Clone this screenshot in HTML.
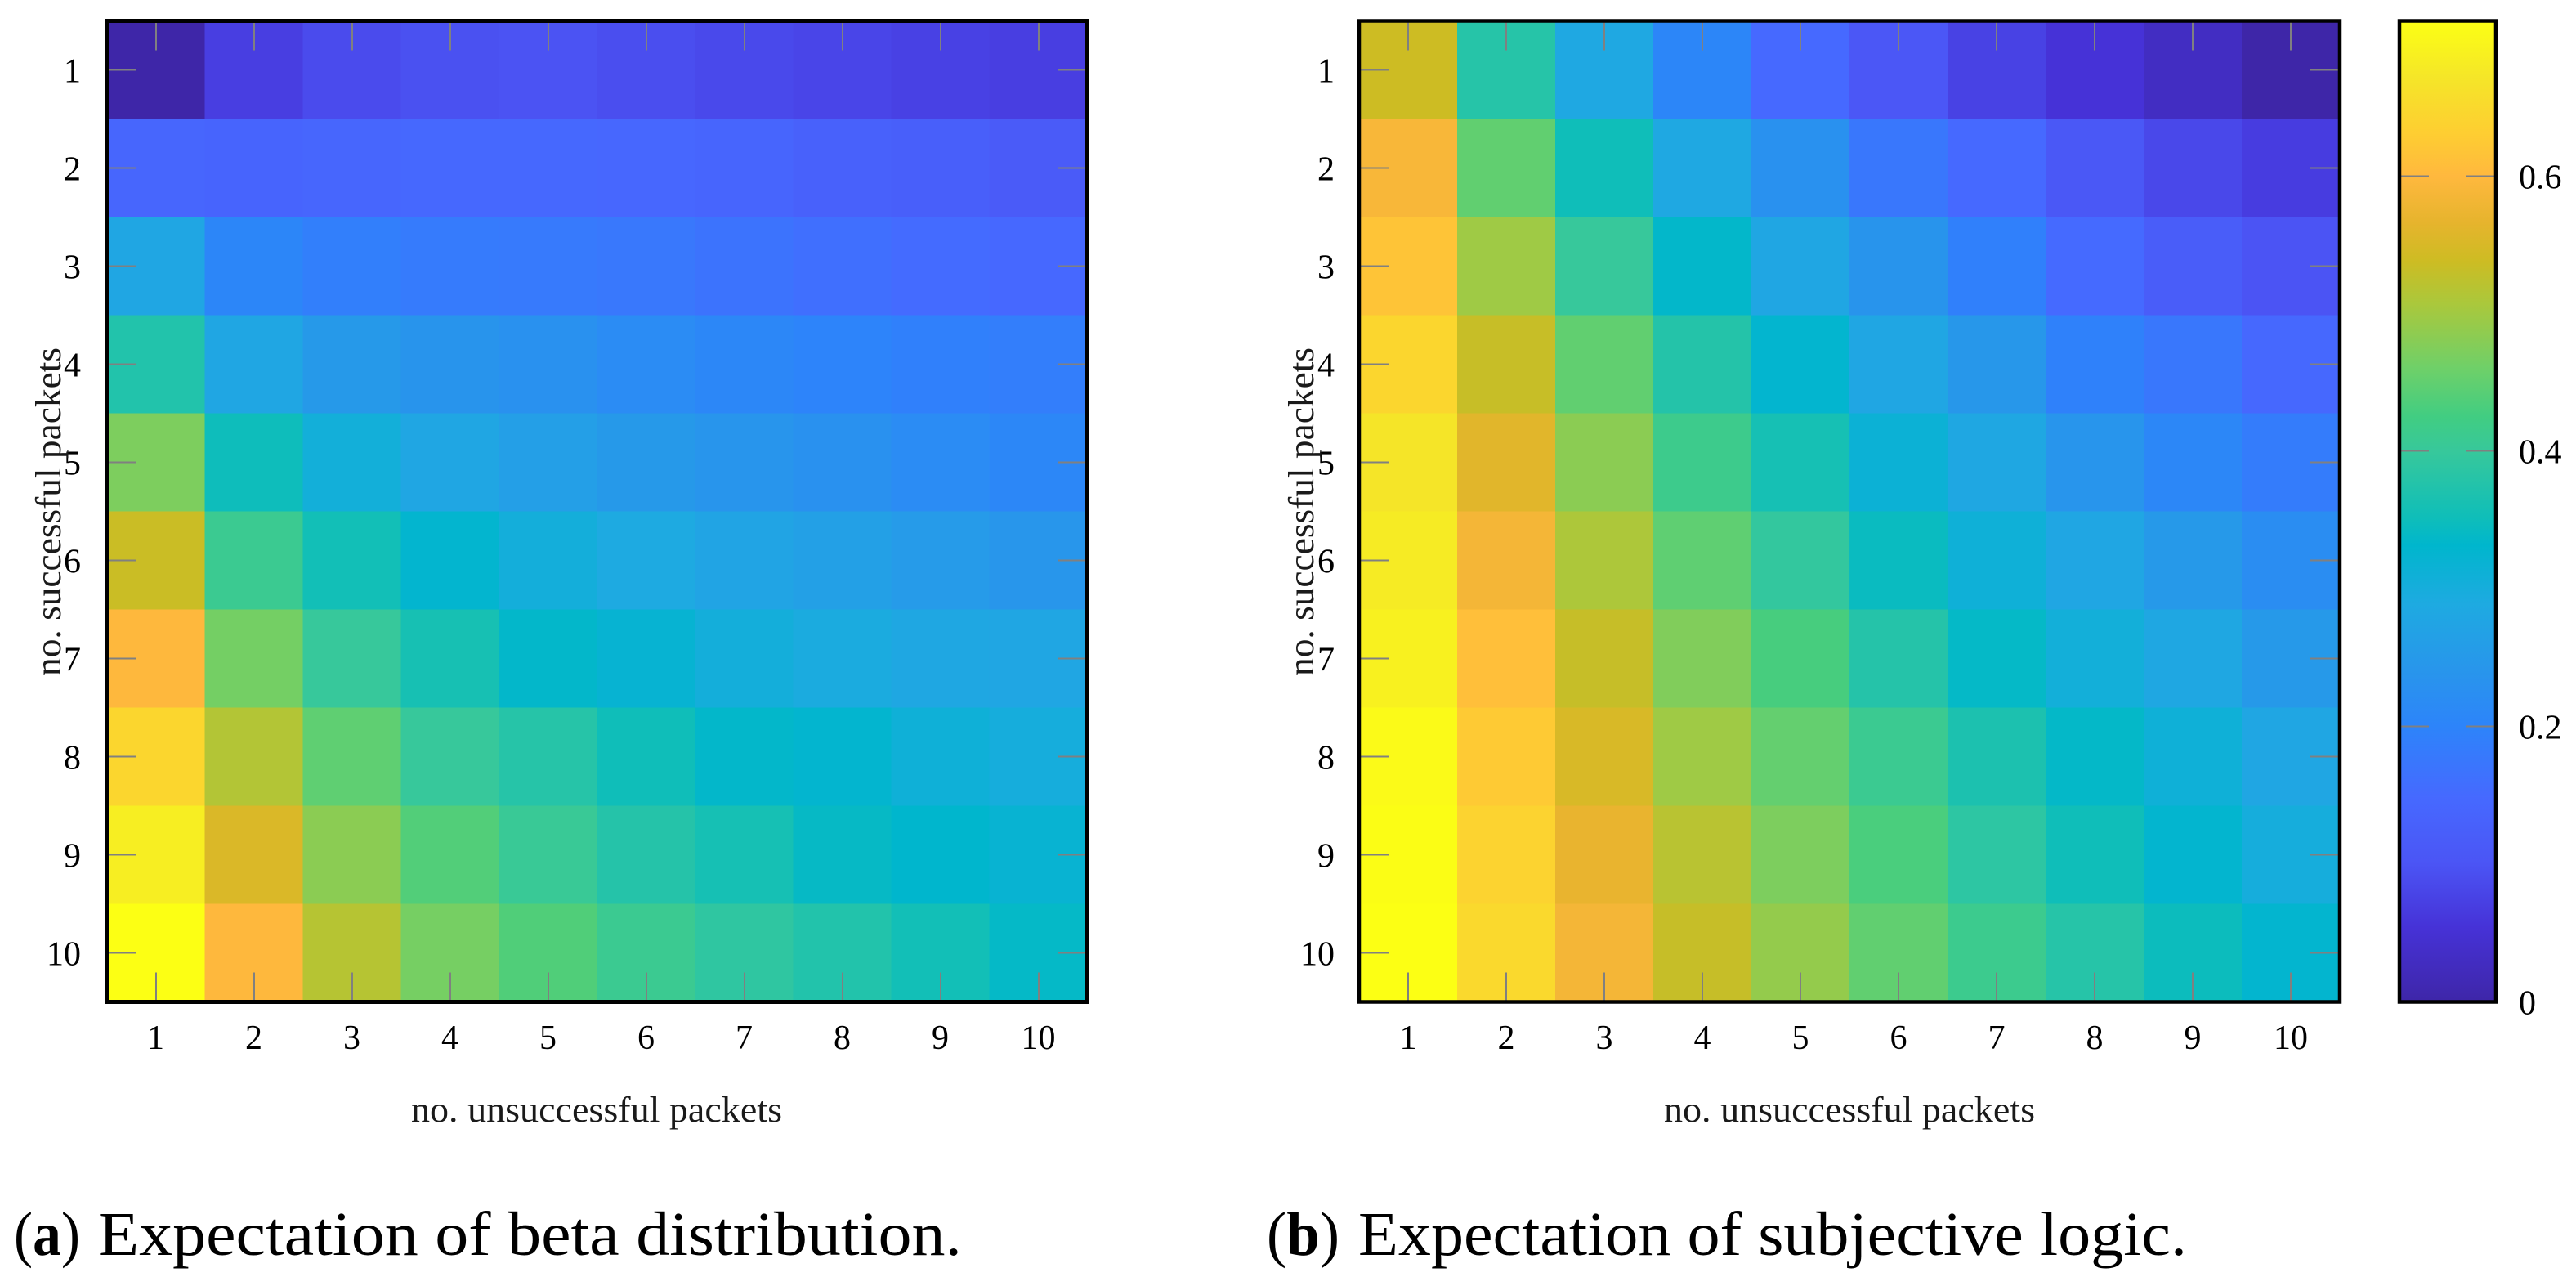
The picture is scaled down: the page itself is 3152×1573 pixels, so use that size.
<!DOCTYPE html>
<html lang="en">
<head>
<meta charset="utf-8">
<title>Expectation heatmaps</title>
<style>
  html, body { margin: 0; padding: 0; background: #fff; }
  body { width: 3152px; height: 1573px; overflow: hidden; }
  svg { display: block; }
  text { font-family: "Liberation Serif", serif; fill: #000; }
  .tick-label { font-size: 42px; }
  .axis-title { font-size: 44px; fill: #1a1a1a; }
  .caption { font-size: 76px; }
</style>
</head>
<body>
<svg id="figure" xmlns="http://www.w3.org/2000/svg" width="3152" height="1573" viewBox="0 0 3152 1573">
  <defs>
    <linearGradient id="colorbar-gradient" x1="0" y1="1" x2="0" y2="0"></linearGradient>
  </defs>
  <g id="panel-a"></g>
  <g id="panel-b"></g>
  <g id="colorbar"></g>

  <text class="axis-title" x="730" y="1372" text-anchor="middle" textLength="454" lengthAdjust="spacingAndGlyphs">no. unsuccessful packets</text>
  <text class="axis-title" transform="translate(74 626) rotate(-90)" text-anchor="middle" textLength="402" lengthAdjust="spacingAndGlyphs">no. successful packets</text>
  <text class="axis-title" x="2263" y="1372" text-anchor="middle" textLength="454" lengthAdjust="spacingAndGlyphs">no. unsuccessful packets</text>
  <text class="axis-title" transform="translate(1607 626) rotate(-90)" text-anchor="middle" textLength="402" lengthAdjust="spacingAndGlyphs">no. successful packets</text>

  <text class="caption" x="17" y="1535" textLength="81" lengthAdjust="spacingAndGlyphs">(<tspan font-weight="bold">a</tspan>)</text>
  <text class="caption" x="120" y="1535" textLength="1057" lengthAdjust="spacingAndGlyphs">Expectation of beta distribution.</text>
  <text class="caption" x="1550" y="1535" textLength="89" lengthAdjust="spacingAndGlyphs">(<tspan font-weight="bold">b</tspan>)</text>
  <text class="caption" x="1662" y="1535" textLength="1014" lengthAdjust="spacingAndGlyphs">Expectation of subjective logic.</text>
</svg>

<script>
// ---- chart data ----
const xCategories = ["1", "2", "3", "4", "5", "6", "7", "8", "9", "10"];
const yCategories = ["1", "2", "3", "4", "5", "6", "7", "8", "9", "10"];

const betaExpectation = [
  [0.000, 0.070, 0.088, 0.095, 0.098, 0.092, 0.085, 0.080, 0.074, 0.070],
  [0.140, 0.137, 0.140, 0.145, 0.145, 0.143, 0.138, 0.130, 0.125, 0.115],
  [0.280, 0.205, 0.190, 0.182, 0.180, 0.176, 0.168, 0.160, 0.152, 0.146],
  [0.375, 0.280, 0.250, 0.238, 0.230, 0.218, 0.208, 0.200, 0.193, 0.188],
  [0.472, 0.350, 0.305, 0.280, 0.262, 0.250, 0.240, 0.230, 0.218, 0.208],
  [0.535, 0.410, 0.355, 0.328, 0.303, 0.288, 0.275, 0.265, 0.253, 0.243],
  [0.598, 0.465, 0.400, 0.362, 0.335, 0.322, 0.303, 0.293, 0.283, 0.280],
  [0.645, 0.515, 0.448, 0.400, 0.380, 0.352, 0.335, 0.328, 0.310, 0.300],
  [0.685, 0.552, 0.483, 0.438, 0.405, 0.378, 0.360, 0.340, 0.332, 0.320],
  [0.713, 0.598, 0.518, 0.466, 0.437, 0.410, 0.390, 0.375, 0.355, 0.338]
];

const subjectiveExpectation = [
  [0.538, 0.380, 0.285, 0.205, 0.148, 0.105, 0.075, 0.054, 0.030, 0.000],
  [0.590, 0.450, 0.352, 0.285, 0.230, 0.175, 0.148, 0.108, 0.083, 0.068],
  [0.617, 0.498, 0.400, 0.335, 0.280, 0.238, 0.193, 0.150, 0.120, 0.100],
  [0.645, 0.533, 0.450, 0.377, 0.328, 0.280, 0.245, 0.195, 0.175, 0.145],
  [0.670, 0.560, 0.483, 0.415, 0.360, 0.315, 0.283, 0.240, 0.208, 0.185],
  [0.680, 0.585, 0.510, 0.448, 0.395, 0.345, 0.310, 0.280, 0.250, 0.222],
  [0.690, 0.610, 0.532, 0.475, 0.430, 0.378, 0.338, 0.305, 0.283, 0.250],
  [0.705, 0.625, 0.550, 0.498, 0.452, 0.410, 0.368, 0.337, 0.310, 0.280],
  [0.710, 0.640, 0.570, 0.520, 0.472, 0.432, 0.388, 0.352, 0.328, 0.300],
  [0.713, 0.650, 0.585, 0.532, 0.490, 0.450, 0.413, 0.380, 0.348, 0.328]
];

const colorbarTicks = [0, 0.2, 0.4, 0.6];
const colorbarTickLabels = ["0", "0.2", "0.4", "0.6"];

// ---- colour map ----
const colormapValues = [0, 0.054, 0.101, 0.148, 0.2, 0.242, 0.289, 0.3316, 0.352, 0.4, 0.425, 0.46, 0.507, 0.538, 0.566, 0.6, 0.63, 0.672, 0.713];
const colormapColors = [
  [62, 38, 168], [70, 50, 215], [75, 85, 245], [70, 105, 255], [45, 132, 250],
  [40, 150, 235], [30, 170, 225], [0, 182, 205], [15, 190, 185], [55, 200, 155],
  [65, 205, 130], [110, 208, 105], [170, 200, 60], [205, 188, 35], [230, 180, 45],
  [255, 184, 62], [254, 205, 50], [245, 230, 40], [252, 255, 20]
];
const colorMax = 0.713;

// ---- layout ----
const plotTop = 25.5;
const plotSize = 1200;
const cellCount = xCategories.length;
const tickLength = 36;
const SVG_NS = "http://www.w3.org/2000/svg";

function colorFor(v) {
  const n = colormapValues.length;
  if (v <= colormapValues[0]) return "rgb(" + colormapColors[0].join(",") + ")";
  for (let i = 1; i < n; i++) {
    if (v <= colormapValues[i]) {
      const t = (v - colormapValues[i - 1]) / (colormapValues[i] - colormapValues[i - 1]);
      const a = colormapColors[i - 1];
      const b = colormapColors[i];
      return "rgb(" + Math.round(a[0] + (b[0] - a[0]) * t) + "," + Math.round(a[1] + (b[1] - a[1]) * t) + "," + Math.round(a[2] + (b[2] - a[2]) * t) + ")";
    }
  }
  return "rgb(" + colormapColors[n - 1].join(",") + ")";
}

function drawLine(parent, x1, y1, x2, y2, name) {
  const line = document.createElementNS(SVG_NS, "line");
  line.setAttribute("x1", x1);
  line.setAttribute("y1", y1);
  line.setAttribute("x2", x2);
  line.setAttribute("y2", y2);
  line.setAttribute("stroke", "#808080");
  line.setAttribute("stroke-width", "2");
  
  
  parent.appendChild(line);
}

function drawLabel(parent, x, y, anchor, content, name) {
  const label = document.createElementNS(SVG_NS, "text");
  label.setAttribute("x", x);
  label.setAttribute("y", y);
  label.setAttribute("text-anchor", anchor);
  label.setAttribute("class", "tick-label");
  
  
  label.textContent = content;
  parent.appendChild(label);
}

function drawFrame(parent, x, y, w, h, strokeWidth, name) {
  const frame = document.createElementNS(SVG_NS, "rect");
  frame.setAttribute("x", x);
  frame.setAttribute("y", y);
  frame.setAttribute("width", w);
  frame.setAttribute("height", h);
  frame.setAttribute("fill", "none");
  frame.setAttribute("stroke", "#000");
  frame.setAttribute("stroke-width", strokeWidth);
  
  
  parent.appendChild(frame);
}

function drawHeatmap(parent, values, plotLeft, frameWidth, labelOffset) {
  const cell = plotSize / cellCount;
  const xScale = function (i) { return plotLeft + (i + 0.5) * cell; };
  const yScale = function (i) { return plotTop + (i + 0.5) * cell; };

  values.forEach(function (row, r) {
    row.forEach(function (v, c) {
      const rect = document.createElementNS(SVG_NS, "rect");
      rect.setAttribute("x", xScale(c) - cell / 2);
      rect.setAttribute("y", yScale(r) - cell / 2);
      rect.setAttribute("width", cell + 0.5);
      rect.setAttribute("height", cell + 0.5);
      rect.setAttribute("fill", colorFor(v));
      
      
      parent.appendChild(rect);
    });
  });

  xCategories.forEach(function (label, i) {
    const x = Math.round(xScale(i));
    drawLine(parent, x, plotTop, x, plotTop + tickLength, 'x-tick-top');
    drawLine(parent, x, plotTop + plotSize, x, plotTop + plotSize - tickLength, 'x-tick-bottom');
    drawLabel(parent, xScale(i), 1283, "middle", label, 'x-tick-label');
  });

  yCategories.forEach(function (label, i) {
    const y = Math.round(yScale(i)) - 0.5;
    drawLine(parent, plotLeft, y, plotLeft + tickLength, y, 'y-tick-left');
    drawLine(parent, plotLeft + plotSize, y, plotLeft + plotSize - tickLength, y, 'y-tick-right');
    drawLabel(parent, plotLeft - labelOffset, y + 15, "end", label, 'y-tick-label');
  });

  drawFrame(parent, plotLeft, plotTop, plotSize, plotSize, frameWidth, 'plot-frame');
}

function drawColorbar(parent) {
  const left = 2936;
  const width = 118;
  const yScale = function (v) { return plotTop + plotSize - (v / colorMax) * plotSize; };

  const gradient = document.getElementById("colorbar-gradient");
  colormapValues.forEach(function (v, i) {
    const stop = document.createElementNS(SVG_NS, "stop");
    stop.setAttribute("offset", v / colorMax);
    stop.setAttribute("stop-color", "rgb(" + colormapColors[i].join(",") + ")");
    gradient.appendChild(stop);
  });

  const bar = document.createElementNS(SVG_NS, "rect");
  bar.setAttribute("x", left);
  bar.setAttribute("y", plotTop);
  bar.setAttribute("width", width);
  bar.setAttribute("height", plotSize);
  bar.setAttribute("fill", "url(#colorbar-gradient)");
  
  
  parent.appendChild(bar);

  colorbarTicks.forEach(function (v, i) {
    const y = Math.round(yScale(v)) - 0.5;
    drawLine(parent, left, y, left + tickLength, y, 'colorbar-tick-left');
    drawLine(parent, left + width, y, left + width - tickLength, y, 'colorbar-tick-right');
    drawLabel(parent, 3082, y + 15, "start", colorbarTickLabels[i], 'colorbar-tick-label');
  });

  drawFrame(parent, left, plotTop, width, plotSize, 4.5, 'colorbar-frame');
}

drawHeatmap(document.getElementById("panel-a"), betaExpectation, 130.5, 5, 31.5);
drawHeatmap(document.getElementById("panel-b"), subjectiveExpectation, 1663, 4.5, 30);
drawColorbar(document.getElementById("colorbar"));
</script>
</body>
</html>
